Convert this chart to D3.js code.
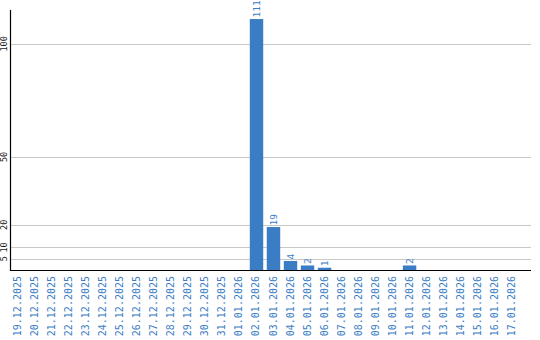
<!DOCTYPE html>
<html><head><meta charset="utf-8">
<script src="https://cdn.jsdelivr.net/npm/d3@7"></script>
<style>body{margin:0;background:#fff}svg{display:block}</style>
</head><body>
<script>
const categories = ["19.12.2025","20.12.2025","21.12.2025","22.12.2025","23.12.2025","24.12.2025","25.12.2025","26.12.2025","27.12.2025","28.12.2025","29.12.2025","30.12.2025","31.12.2025","01.01.2026","02.01.2026","03.01.2026","04.01.2026","05.01.2026","06.01.2026","07.01.2026","08.01.2026","09.01.2026","10.01.2026","11.01.2026","12.01.2026","13.01.2026","14.01.2026","15.01.2026","16.01.2026","17.01.2026"];
const values = [0,0,0,0,0,0,0,0,0,0,0,0,0,0,111,19,4,2,1,0,0,0,0,2,0,0,0,0,0,0];
const yTicks = [5,10,20,50,100];

const W = 540, H = 340;
const svg = d3.select("body").append("svg").attr("width", W).attr("height", H);
const blue = "#3b7dc4";
const x = d3.scaleBand().domain(categories).range([10, 520]).paddingInner(0.21).paddingOuter(0.1);
const y = d3.scaleLinear().domain([0, 115]).range([270, 10]);

// gridlines
svg.append("g").selectAll("line").data(yTicks).join("line")
  .attr("x1", 11).attr("x2", 531)
  .attr("y1", d => Math.round(y(d)) + 0.5).attr("y2", d => Math.round(y(d)) + 0.5)
  .attr("stroke", "#c8c8c8").attr("stroke-width", 1);

// y labels
svg.append("g").selectAll("text").data(yTicks).join("text")
  .attr("transform", d => `translate(4.5,${y(d)}) rotate(-90)`)
  .attr("text-anchor", "middle").attr("dy", "0.35em")
  .attr("font-family", "DejaVu Sans Mono").attr("font-size", 8.5)
  .attr("fill", "#222").text(d => d);

// bars
svg.append("g").selectAll("rect").data(values.map((v,i)=>({c:categories[i],v}))).join("rect")
  .attr("x", d => x(d.c)).attr("width", x.bandwidth())
  .attr("y", d => y(d.v)).attr("height", d => y(0) - y(d.v))
  .attr("fill", blue);

// bar value labels
svg.append("g").selectAll("text").data(values.map((v,i)=>({c:categories[i],v})).filter(d=>d.v>0)).join("text")
  .attr("transform", d => `translate(${x(d.c)+x.bandwidth()/2},${y(d.v)-1.5}) rotate(-90)`)
  .attr("text-anchor", "start").attr("dy", "0.35em")
  .attr("font-family", "DejaVu Sans Mono").attr("font-size", 9.5)
  .attr("fill", blue).text(d => d.v);

// x labels
svg.append("g").selectAll("text").data(categories).join("text")
  .attr("transform", d => `translate(${x(d)+x.bandwidth()/2 - 0.5},276) rotate(-90)`)
  .attr("text-anchor", "end").attr("dy", "0.35em")
  .attr("font-family", "DejaVu Sans Mono").attr("font-size", 10)
  .attr("fill", blue).text(d => d);

// axes
svg.append("line").attr("x1", 10.5).attr("x2", 10.5).attr("y1", 10).attr("y2", 271)
  .attr("stroke", "#000").attr("stroke-width", 1.2);
svg.append("line").attr("x1", 10).attr("x2", 531).attr("y1", 270.5).attr("y2", 270.5)
  .attr("stroke", "#000").attr("stroke-width", 1.2);
</script>
</body></html>
